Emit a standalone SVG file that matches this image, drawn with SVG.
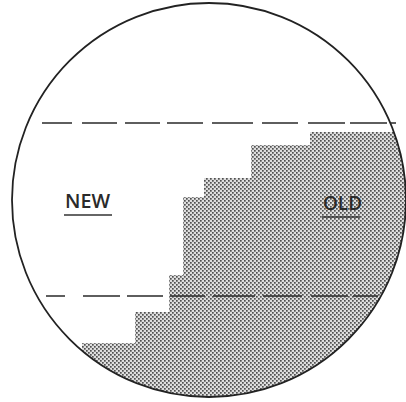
<svg xmlns="http://www.w3.org/2000/svg" width="406" height="402" viewBox="0 0 406 402">
<style>
.dash{stroke:#2a2a2a;stroke-width:1.4;fill:none}
.lbl{font-family:"Open Sans","DejaVu Sans",sans-serif;font-size:20px;font-weight:600;fill:#2a2a2a}
.ul{stroke:#333;stroke-width:1.6}
</style>
<defs>
<pattern id="stip" width="4" height="4" patternUnits="userSpaceOnUse">
<rect width="4" height="4" fill="#dedede"/>
<rect x="0" y="0" width="1.7" height="1.7" fill="#505050"/>
<rect x="2" y="2" width="1.7" height="1.7" fill="#505050"/>
</pattern>
<clipPath id="circ"><circle cx="209" cy="200" r="197"/></clipPath>
</defs>
<rect width="406" height="402" fill="#fff"/>
<g id="old-region" clip-path="url(#circ)">
<path d="M310,132 H410 V410 H82 V343 H135 V312 H169 V275 H183 V197 H204 V178 H251 V145 H310 Z" fill="url(#stip)"/>
</g>
<g id="connectors">
<path class="dash" d="M42,123H72M82,123H117M125,123H160M167,123H203M212,123H253M262,123H298M308,123H345M350,123H387M391,123H396"/>
<path class="dash" d="M46,296H65M83,296H120M127,296H163M170,296H205M213,296H255M263,296H302M311,296H348M353,296H378"/>
</g>
<g id="boundary">
<circle cx="209" cy="200" r="197" fill="none" stroke="#222" stroke-width="1.8"/>
</g>
<g id="new">
<text class="lbl" x="65" y="208" textLength="45" lengthAdjust="spacingAndGlyphs">NEW</text>
<line class="ul" x1="64" y1="215" x2="112" y2="215"/>
</g>
<g id="old">
<text class="lbl" x="323" y="210" textLength="39" lengthAdjust="spacingAndGlyphs">OLD</text>
<line class="ul" x1="322" y1="217" x2="360" y2="217"/>
</g>
</svg>
